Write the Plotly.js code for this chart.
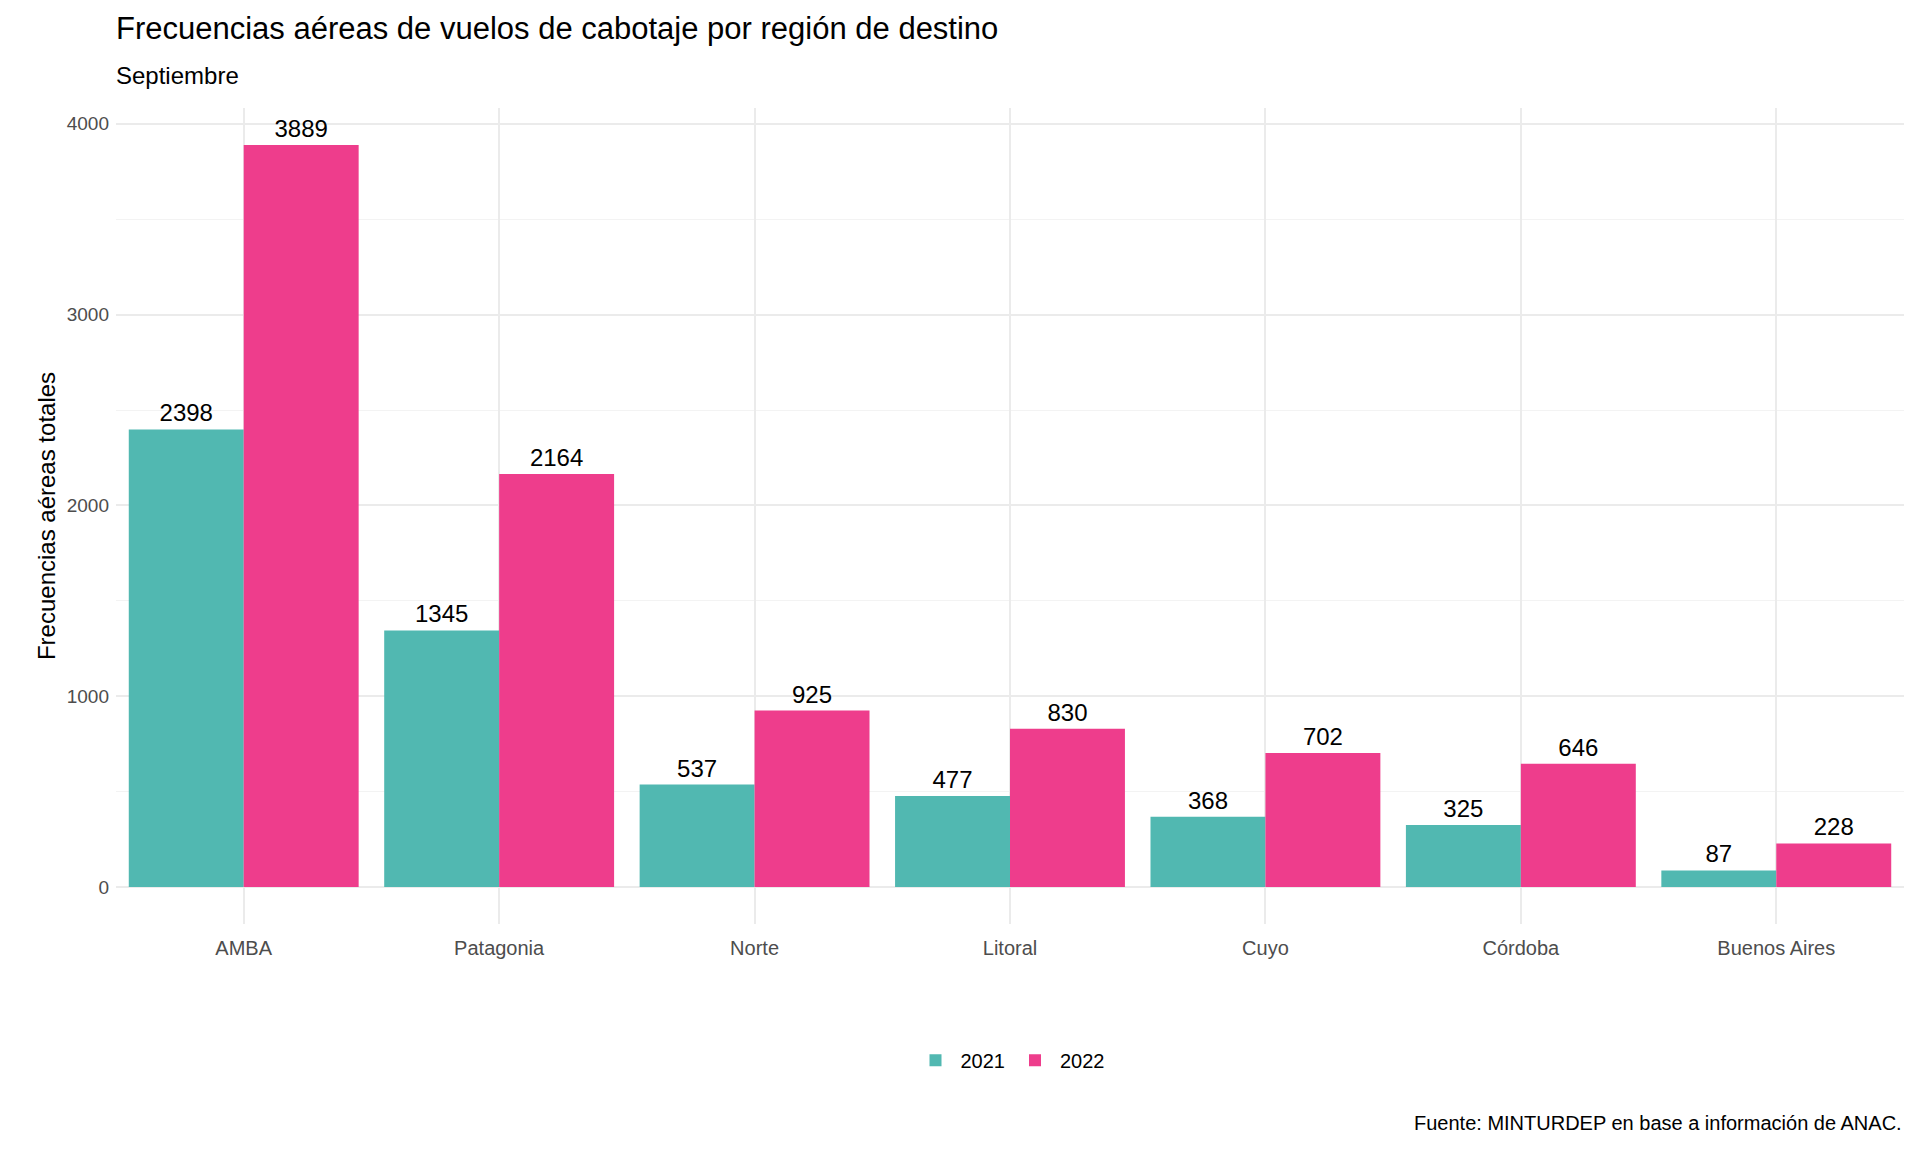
<!DOCTYPE html>
<html><head><meta charset="utf-8">
<script src="https://cdn.plot.ly/plotly-3.0.1.min.js"></script>
<style>body{margin:0;background:#fff}</style></head>
<body><div id="c" style="width:1920px;height:1152px"></div>
<script>
const regiones=["AMBA","Patagonia","Norte","Litoral","Cuyo","Córdoba","Buenos Aires"];
const v2021=[2398,1345,537,477,368,325,87];
const v2022=[3889,2164,925,830,702,646,228];
const F="Liberation Sans, Arial, sans-serif";
function tr(name,y,color){return {type:"bar",name:name,x:regiones,y:y,marker:{color:color},
 text:y.map(String),textposition:"outside",cliponaxis:false,textfont:{family:F,size:24,color:"#000"},hoverinfo:"skip"};}
Plotly.newPlot("c",[tr("2021",v2021,"#51B8B1"),tr("2022",v2022,"#EE3D8C")],{
 width:1920,height:1152,barmode:"group",bargap:0.1,bargroupgap:0,
 paper_bgcolor:"#fff",plot_bgcolor:"#fff",font:{family:F},
 margin:{l:116,r:16,t:108,b:228},
 xaxis:{showgrid:true,gridcolor:"#EBEBEB",gridwidth:1.5,tickfont:{family:F,size:20,color:"#4D4D4D"},ticks:"",zeroline:false,ticklabelstandoff:10},
 yaxis:{range:[-194,4083],tickvals:[0,1000,2000,3000,4000],gridcolor:"#EBEBEB",gridwidth:1.5,zeroline:false,
  minor:{tickvals:[500,1500,2500,3500],showgrid:true,gridcolor:"#F3F3F3",gridwidth:1},
  tickfont:{family:F,size:19,color:"#4D4D4D"},ticklabelstandoff:6,
  title:{text:"Frecuencias aéreas totales",font:{family:F,size:24,color:"#000"},standoff:4}},
 legend:{orientation:"h",x:0.5,xanchor:"center",y:-0.167,yanchor:"middle",font:{family:F,size:20,color:"#000"},itemwidth:40},
 annotations:[
  {text:"Frecuencias aéreas de vuelos de cabotaje por región de destino",xref:"paper",yref:"paper",x:-0.001,xanchor:"left",y:1.097,yanchor:"middle",showarrow:false,font:{family:F,size:31,color:"#000"}},
  {text:"Septiembre",xref:"paper",yref:"paper",x:-0.001,xanchor:"left",y:1.040,yanchor:"middle",showarrow:false,font:{family:F,size:24,color:"#000"}},
  {text:"Fuente: MINTURDEP en base a información de ANAC.",xref:"paper",yref:"paper",x:1,xanchor:"right",
  y:-0.244,yanchor:"middle",showarrow:false,font:{family:F,size:20,color:"#000"}}]
},{displayModeBar:false});
</script></body></html>
